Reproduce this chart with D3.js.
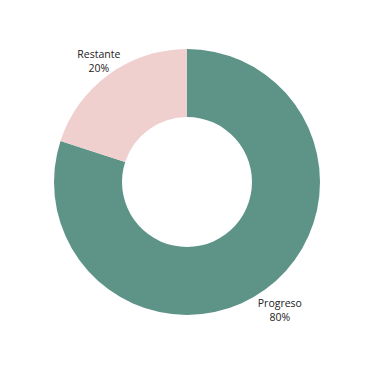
<!DOCTYPE html>
<html>
<head>
<meta charset="utf-8">
<script src="https://cdn.jsdelivr.net/npm/d3@7"></script>
<style>
  body { margin: 0; background: #fff; }
  text { font-family: "Open Sans", sans-serif; font-size: 10.5px; fill: #222; }
</style>
</head>
<body>
<div id="chart"></div>
<script>
var categories = ["Progreso", "Restante"];
var values = [80, 20];
var colors = ["#5e9488", "#f0cfcf"];

var width = 375, height = 366;
var cx = 187, cy = 182;
var outerR = 133, innerR = 65;

var svg = d3.select("#chart").append("svg")
  .attr("width", width)
  .attr("height", height)
  .append("g")
  .attr("transform", `translate(${cx}, ${cy})`);

var data = categories.map(function (c, i) { return { name: c, value: values[i] }; });
var total = d3.sum(values);

var pie = d3.pie().sort(null).value(d => d.value);
var arc = d3.arc().innerRadius(innerR).outerRadius(outerR);

// label sits a bit further out for the big slice
function labelPos(d) {
  var r = d.data.name == "Progreso" ? 158 : 150;
  return d3.arc().innerRadius(r).outerRadius(r).centroid(d);
}

var color = d3.scaleOrdinal().domain(categories).range(colors);

var slices = svg.selectAll(".slice")
  .data(pie(data)).enter()
  .append("g")
  .attr("class", "slice");

slices.append("path")
  .attr("d", arc)
  .style("fill", d => color(d.data.name));

// name line
slices.append("text")
  .attr("x", d => labelPos(d)[0])
  .attr("y", d => labelPos(d)[1] - 3)
  .style("text-anchor", "middle")
  .text(d => d.data.name);

// percent line
slices.append("text")
  .attr("x", d => labelPos(d)[0])
  .attr("y", d => labelPos(d)[1] + 11.4)
  .style("text-anchor", "middle")
  .text(d => Math.round(d.data.value / total * 100) + "%");
</script>
</body>
</html>
